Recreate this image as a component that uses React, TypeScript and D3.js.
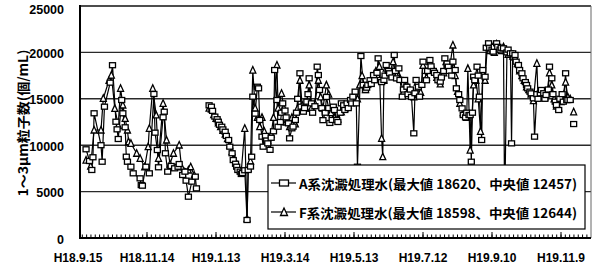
import React from 'react';
import * as d3 from 'd3';

// Day offsets since H18.9.15 (2006-09-15) for the category labels
const labelDays = [0, 60, 120, 180, 240, 300, 360, 420];
const xLabels = ['H18.9.15', 'H18.11.14', 'H19.1.13', 'H19.3.14', 'H19.5.13', 'H19.7.12', 'H19.9.10', 'H19.11.9'];
const yTicks = [0, 5000, 10000, 15000, 20000, 25000];
const gridValues = [5000, 10000, 15000, 20000];
const legendLabels = [
  'A系沈澱処理水(最大値 18620、中央値 12457)',
  'F系沈澱処理水(最大値 18598、中央値 12644)',
];
const yTitle = '1～3μm粒子数(個/mL)';

type Pt = [number, number | null];

// A系 (squares): [day, count]
const seriesA: Pt[] = [
  [7,9560],[10,8300],[12,7330],[13,8700],[14,13440],[20,10000],[21,8220],[23,14150],[28,16740],[30,18620],[33,12530],[34,11710],[35,10670],[38,14870],[39,13440],[41,11930],[42,8760],[43,8220],[46,7680],[48,6970],[54,6430],[55,5710],[56,5640],[59,7680],[62,6970],[66,15520],[67,11350],[69,9480],[70,7620],[74,13010],[75,13610],[76,9130],[78,7150],[81,7760],[84,7510],[87,7680],[88,7970],[91,6790],[93,7150],[94,6180],[96,4450],[99,6070],[102,6610],[103,5350],
  [108,null],
  [114,14300],[116,14150],[117,13700],[119,13080],[121,12800],[122,12530],[123,12200],[125,11990],[126,11700],[128,11450],[129,11000],[131,10560],[132,9840],[134,9130],[135,8400],[137,8000],[138,7680],[139,7330],[141,7150],[142,6900],[143,7000],[145,7300],[147,1940],[148,7330],[150,7700],[151,8760],[152,15230],[154,13400],[156,16300],[157,16130],[158,12720],[160,10920],[161,9840],[163,11000],[164,10500],[165,10200],[167,9500],[168,10800],[170,11500],[171,18100],[173,14870],[174,11990],[176,12500],[177,13500],[178,14510],[180,13730],[181,13000],[183,12360],[184,10740],[186,11820],[187,12000],[189,12720],[190,13500],[191,15000],[193,17750],[194,14150],[196,13610],[197,14000],[199,14690],[200,15500],[201,17210],[203,14510],[204,13500],[206,14200],[208,18460],[209,17560],[210,15950],[212,14000],[213,12700],[215,13500],[216,15200],[218,14000],[219,12400],[221,12720],[222,14150],[223,13790],[225,12720],[226,12500],[228,13500],[229,14510],[231,14300],[232,13800],[234,14510],[235,14000],[237,14870],[238,14500],[239,15230],[241,15770],[242,14510],[243,7680],[246,19610],[248,16500],[250,15950],[251,16200],[252,16490],[254,17000],[255,16600],[257,17560],[258,17000],[260,17800],[261,19360],[263,17030],[264,16800],[266,17030],[267,17500],[268,18640],[270,18000],[271,17750],[273,17300],[275,19720],[276,18000],[277,17200],[279,18280],[280,17030],[282,15230],[283,16000],[284,17030],[286,16300],[287,15500],[289,16000],[290,15200],[292,11280],[293,15600],[294,17030],[296,16300],[297,15230],[299,16500],[300,19000],[302,18000],[303,17000],[304,18000],[306,19180],[307,18500],[309,18000],[310,17800],[312,17560],[313,17000],[315,16850],[316,17300],[318,18000],[319,19360],[321,18800],[322,18460],[323,18000],[325,17500],[326,19000],[328,18100],[329,16130],[331,15500],[332,14870],[334,13970],[335,13250],[337,13000],[338,13500],[340,13250],[341,13250],[342,8220],[343,13500],[344,17380],[345,17000],[347,18460],[348,17500],[349,15230],[351,10560],[352,18100],[354,17380],[355,20500],[357,20980],[358,20500],[360,20300],[361,20080],[362,20600],[364,20980],[365,20600],[367,20300],[368,20500],[370,20440],[371,3000],[373,20000],[374,20300],[376,19900],[377,10200],[378,19900],[380,19720],[381,19000],[383,18640],[384,18100],[386,17750],[387,17210],[389,16800],[390,16490],[391,16130],[393,15770],[394,15590],[396,15050],[397,10920],[399,15500],[400,15000],[402,15590],[403,15950],[405,15600],[406,15000],[407,15410],[409,16000],[410,18460],[412,17210],[413,15500],[415,14690],[416,14330],[418,13790],[419,15000],[421,15500],[422,14690],[424,17750],[425,14870],[426,14870],[428,14870],
  [430,null],
  [431,12280],
];

// F系 (triangles): [day, count]
const seriesF: Pt[] = [
  [7,8400],[11,7760],[14,11640],[20,11640],[22,15050],[27,17000],[29,17560],[32,13970],[35,12140],[37,16130],[39,14330],[41,12890],[43,11640],[44,10380],[46,10200],[51,9130],[54,8590],[58,7680],[61,9840],[62,11820],[65,16130],[68,13260],[70,8590],[74,14510],[77,10560],[80,7970],[83,9130],[88,10020],[90,7680],[96,7330],[98,7680],[101,6790],
  [108,null],
  [114,14000],[116,13900],[118,13300],[120,12900],[122,12400],[124,12000],[126,11600],[128,11200],[130,10700],[132,10000],[134,9300],[136,8500],[138,7900],[140,7400],[142,7200],[145,11820],[147,2100],[148,7500],[150,8300],[152,18100],[154,14000],[156,13000],[158,12000],[160,13000],[162,11500],[165,10500],[168,11200],[170,13000],[173,18640],[174,14000],[177,15590],[179,14000],[181,12500],[184,12000],[186,13000],[189,12300],[191,14000],[193,17000],[195,14300],[198,14000],[201,16500],[203,14000],[206,14500],[209,17000],[211,15200],[213,14000],[216,16500],[218,15500],[220,13500],[223,13000],[226,12800],[229,13600],[232,14000],[235,14300],[238,14700],[241,15500],[243,15000],[245,16500],[247,17500],[250,16000],[253,16800],[256,17200],[259,18000],[262,18500],[264,10740],[265,8760],[266,17000],[268,18300],[271,17800],[274,19000],[277,17500],[280,17200],[283,15800],[286,16500],[289,15800],[292,15200],[295,16800],[298,15700],[300,18600],[303,17300],[306,19000],[309,18200],[312,17300],[315,16600],[318,17800],[320,19000],[323,18200],[326,20800],[328,17500],[330,15800],[332,14500],[335,13500],[338,13000],[339,18280],[341,9480],[344,16500],[346,17000],[348,15000],[350,11500],[352,17800],[354,17000],[356,20800],[358,20200],[360,20600],[362,20000],[364,20900],[366,20400],[368,20200],[370,20600],[372,20200],[374,19800],[376,20000],[378,19600],[380,19500],[382,18800],[384,18000],[386,17500],[388,17000],[390,16300],[392,16000],[394,15500],[396,14800],[399,18820],[400,15200],[402,15700],[404,15400],[406,15200],[408,15800],[410,17800],[412,16500],[414,15000],[416,14200],[418,14000],[420,14700],[422,15400],[424,16800],[426,15200],[428,15000],
  [430,null],
  [431,13600],
];

const W = 593;
const H = 267;
const plotL = 80;
const plotR = 591;
const plotT = 6;
const plotB = 238;

const jpFont = '"Noto Sans CJK JP", "Noto Sans", sans-serif';
const numFont = '"Liberation Sans", Arial, sans-serif';

export default function App() {
  const x = d3.scaleLinear().domain([0, 420]).range([78, 561]);
  const y = d3.scaleLinear().domain([0, 25000]).range([plotB, plotT]);

  const line = d3
    .line<Pt>()
    .defined((d) => d[1] != null)
    .x((d) => x(d[0]))
    .y((d) => y(d[1] as number));

  const minorStep = 60 / 16;
  const minorTicks = d3.range(0, 446 / minorStep).map((i) => i * minorStep).filter((d) => x(d) > plotL + 1 && x(d) < plotR);

  const sq = (cx: number, cy: number, k: string, w = 6, h = 5) => (
    <rect key={k} x={cx - w / 2} y={cy - h / 2} width={w} height={h} fill="#fff" stroke="#000" strokeWidth={1.3} />
  );
  const tri = (cx: number, cy: number, k: string, s = 6) => (
    <path
      key={k}
      d={`M${cx},${cy - s / 2 - 0.5}L${cx + s / 2},${cy + s / 2}L${cx - s / 2},${cy + s / 2}Z`}
      fill="#fff"
      stroke="#000"
      strokeWidth={1.3}
    />
  );

  const defA = seriesA.filter((d) => d[1] != null);
  const defF = seriesF.filter((d) => d[1] != null);

  const legX = 268, legY = 165, legW = 317, legH = 64;
  const rows = [183, 212];

  return (
    <svg
      width={W}
      height={H}
      viewBox={`0 0 ${W} ${H}`}
      style={{ position: 'fixed', left: 0, top: 0, background: '#fff' }}
    >
      <rect x={0} y={0} width={W} height={H} fill="#fff" />
      {gridValues.map((v) => (
        <line key={v} x1={plotL} x2={plotR} y1={y(v)} y2={y(v)} stroke="#2a2a2a" strokeWidth={1.4} />
      ))}
      <line x1={plotL} x2={plotR} y1={y(25000)} y2={y(25000)} stroke="#111" strokeWidth={1.6} />
      <line x1={plotR} x2={plotR} y1={plotT} y2={plotB} stroke="#666" strokeWidth={1} />

      <path d={line(seriesF) || ''} fill="none" stroke="#000" strokeWidth={1.2} />
      <path d={line(seriesA) || ''} fill="none" stroke="#000" strokeWidth={1.2} />
      {defF.map((d, i) => tri(x(d[0]), y(d[1] as number), 'f' + i))}
      {defA.map((d, i) => sq(x(d[0]), y(d[1] as number), 'a' + i))}

      <line x1={plotL} x2={plotL} y1={plotT - 1} y2={plotB + 1} stroke="#000" strokeWidth={2} />
      <line x1={plotL} x2={plotR} y1={plotB} y2={plotB} stroke="#000" strokeWidth={2} />
      {minorTicks.map((d, i) => (
        <line key={'mt' + i} x1={x(d)} x2={x(d)} y1={plotB} y2={plotB - 3.5} stroke="#000" strokeWidth={1} />
      ))}
      {labelDays.slice(1).map((d) => (
        <line key={'MT' + d} x1={x(d)} x2={x(d)} y1={plotB} y2={plotB - 6} stroke="#000" strokeWidth={1} />
      ))}

      {yTicks.map((v) => (
        <text
          key={'yl' + v}
          x={64}
          y={Math.max(y(v) + 1.5, 10)}
          textAnchor="end"
          dominantBaseline="central"
          fontFamily={numFont}
          fontWeight="bold"
          fontSize={12.5}
          fill="#000"
        >
          {v}
        </text>
      ))}

      {labelDays.map((d, i) => (
        <text
          key={'xl' + d}
          x={x(d)}
          y={262}
          textAnchor="middle"
          fontFamily={numFont}
          fontWeight="bold"
          fontSize={12}
          fill="#000"
        >
          {xLabels[i]}
        </text>
      ))}

      <text
        transform={`translate(22,123) rotate(-90)`}
        textAnchor="middle"
        dominantBaseline="central"
        fontFamily={jpFont}
        fontWeight="bold"
        fontSize={13}
        textLength={147}
        lengthAdjust="spacingAndGlyphs"
        fill="#000"
      >
        {yTitle}
      </text>

      <rect x={legX} y={legY} width={legW} height={legH} fill="#fff" stroke="#000" strokeWidth={1.2} />
      {rows.map((ry, i) => (
        <g key={'lg' + i}>
          <line x1={271} x2={296} y1={ry} y2={ry} stroke="#000" strokeWidth={1.2} />
          {i === 0 ? sq(284, ry, 'ls', 9, 6) : tri(284, ry, 'lt', 7)}
          <text
            x={299}
            y={ry}
            dominantBaseline="central"
            fontFamily={jpFont}
            fontWeight="bold"
            fontSize={13}
            textLength={278}
            lengthAdjust="spacingAndGlyphs"
            fill="#000"
          >
            {legendLabels[i]}
          </text>
        </g>
      ))}
    </svg>
  );
}
